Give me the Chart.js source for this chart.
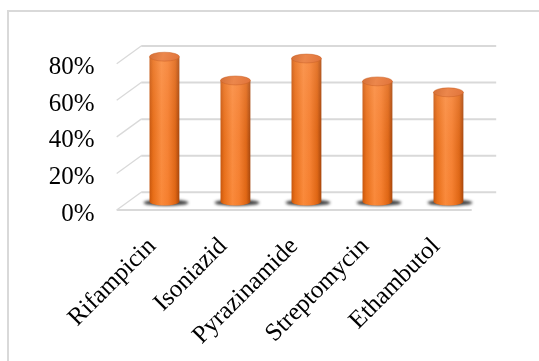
<!DOCTYPE html>
<html>
<head>
<meta charset="utf-8">
<script src="https://cdn.jsdelivr.net/npm/chart.js@4.4.1/dist/chart.umd.min.js"></script>
<style>
  html, body { margin: 0; padding: 0; background: #fff; }
  #wrap { width: 539px; height: 361px; }
</style>
</head>
<body>
<div id="wrap"><canvas id="c" width="539" height="361"></canvas></div>
<script>
// Drug names and share of resistant isolates (%)
const drugs = ['Rifampicin', 'Isoniazid', 'Pyrazinamide', 'Streptomycin', 'Ethambutol'];
const percentages = [79, 66, 78, 65.5, 59.5];
const yTicks = [0, 20, 40, 60, 80];

// Pseudo-3D depth: the back wall sits up and to the right of the front plane
const DEPTH_X = 24.5;
const DEPTH_Y = -17.7;

function drawCylinder(ctx, cx, topY, botY, w) {
  const rx = w / 2;
  const ry = w * 0.15;

  // soft shadow on the floor
  ctx.save();
  ctx.filter = 'blur(1.6px)';
  ctx.fillStyle = 'rgba(25,25,25,0.85)';
  ctx.beginPath();
  ctx.ellipse(cx + 1.5, botY + 1.5, rx * 1.5, 3, 0, 0, Math.PI * 2);
  ctx.fill();
  ctx.restore();

  // body
  ctx.save();
  ctx.beginPath();
  ctx.moveTo(cx - rx, topY);
  ctx.lineTo(cx - rx, botY);
  ctx.ellipse(cx, botY, rx, ry, 0, Math.PI, 0, true);
  ctx.lineTo(cx + rx, topY);
  ctx.closePath();
  const g = ctx.createLinearGradient(cx - rx, 0, cx + rx, 0);
  g.addColorStop(0, '#c2530c');
  g.addColorStop(0.12, '#e56d19');
  g.addColorStop(0.4, '#f98c40');
  g.addColorStop(0.62, '#f48032');
  g.addColorStop(0.86, '#dc6515');
  g.addColorStop(1, '#a0420a');
  ctx.fillStyle = g;
  ctx.fill();
  ctx.clip();
  const v = ctx.createLinearGradient(0, topY, 0, botY + ry);
  v.addColorStop(0, 'rgba(255,185,140,0.22)');
  v.addColorStop(0.5, 'rgba(255,160,100,0.05)');
  v.addColorStop(1, 'rgba(255,110,0,0.10)');
  ctx.fillStyle = v;
  ctx.fillRect(cx - rx, topY - ry, w, botY - topY + ry * 2);
  ctx.restore();

  // top cap
  ctx.save();
  ctx.beginPath();
  ctx.ellipse(cx, topY, rx, ry, 0, 0, Math.PI * 2);
  const t = ctx.createLinearGradient(cx - rx, topY - ry, cx + rx, topY + ry);
  t.addColorStop(0, '#d46f36');
  t.addColorStop(0.45, '#ec874c');
  t.addColorStop(1, '#e0733a');
  ctx.fillStyle = t;
  ctx.fill();
  ctx.lineWidth = 0.8;
  ctx.strokeStyle = 'rgba(200,95,35,0.6)';
  ctx.stroke();
  ctx.restore();
}

const box3d = {
  id: 'box3d',
  beforeDraw(chart) {
    const ctx = chart.ctx;
    ctx.save();
    ctx.fillStyle = '#fff';
    ctx.fillRect(0, 0, chart.width, chart.height);
    // outer frame
    ctx.strokeStyle = '#d9d9d9';
    ctx.lineWidth = 2;
    ctx.beginPath();
    ctx.moveTo(8, chart.height);
    ctx.lineTo(8, 11);
    ctx.lineTo(chart.width, 11);
    ctx.stroke();
    ctx.restore();
  },
  beforeDatasetsDraw(chart) {
    const ctx = chart.ctx;
    const ys = chart.scales.y;
    const a = chart.chartArea;
    ctx.save();
    ctx.lineCap = 'butt';
    ys.ticks.forEach(tk => {
      const yf = ys.getPixelForValue(tk.value);
      // back wall line
      ctx.strokeStyle = '#d9d9d9';
      ctx.lineWidth = 2;
      ctx.beginPath();
      ctx.moveTo(a.left + DEPTH_X, yf + DEPTH_Y);
      ctx.lineTo(a.right + DEPTH_X, yf + DEPTH_Y);
      ctx.stroke();
      // side wall line
      ctx.lineWidth = 1.3;
      ctx.beginPath();
      ctx.moveTo(a.left, yf);
      ctx.lineTo(a.left + DEPTH_X, yf + DEPTH_Y);
      ctx.stroke();
      if (tk.value === 0) {
        ctx.lineWidth = 2;
        ctx.beginPath();
        ctx.moveTo(a.left, yf);
        ctx.lineTo(a.right, yf);
        ctx.stroke();
      }
    });
    ctx.restore();
  },
  afterDatasetsDraw(chart) {
    const ctx = chart.ctx;
    const meta = chart.getDatasetMeta(0);
    meta.data.forEach(bar => {
      const p = bar.getProps(['x', 'y', 'base', 'width'], true);
      drawCylinder(ctx, p.x + DEPTH_X / 2, p.y + DEPTH_Y / 2, p.base + DEPTH_Y / 2, p.width);
    });
  }
};

new Chart(document.getElementById('c'), {
  type: 'bar',
  data: {
    labels: drugs,
    datasets: [{
      data: percentages,
      backgroundColor: 'rgba(0,0,0,0)',
      borderWidth: 0,
      barPercentage: 0.42,
      categoryPercentage: 1
    }]
  },
  options: {
    responsive: false,
    devicePixelRatio: 1,
    animation: false,
    layout: { padding: { left: 0, right: 67.3, top: 63.7, bottom: 0 } },
    plugins: { legend: { display: false }, tooltip: { enabled: false } },
    scales: {
      x: {
        grid: { display: false },
        border: { display: false },
        ticks: {
          autoSkip: false,
          minRotation: 45,
          maxRotation: 45,
          padding: 14,
          color: '#000',
          font: { family: 'Liberation Serif', size: 25 }
        },
        afterFit(scale) { scale.height = 151; }
      },
      y: {
        min: 0,
        max: 80,
        grid: { display: false, drawTicks: false },
        border: { display: false },
        afterBuildTicks(scale) { scale.ticks = yTicks.map(v => ({ value: v })); },
        ticks: {
          padding: 22,
          labelOffset: 4,
          color: '#000',
          font: { family: 'Liberation Serif', size: 25 },
          callback: v => v + '%'
        },
        afterFit(scale) { scale.width = 116.7; }
      }
    }
  },
  plugins: [box3d]
});
</script>
</body>
</html>
